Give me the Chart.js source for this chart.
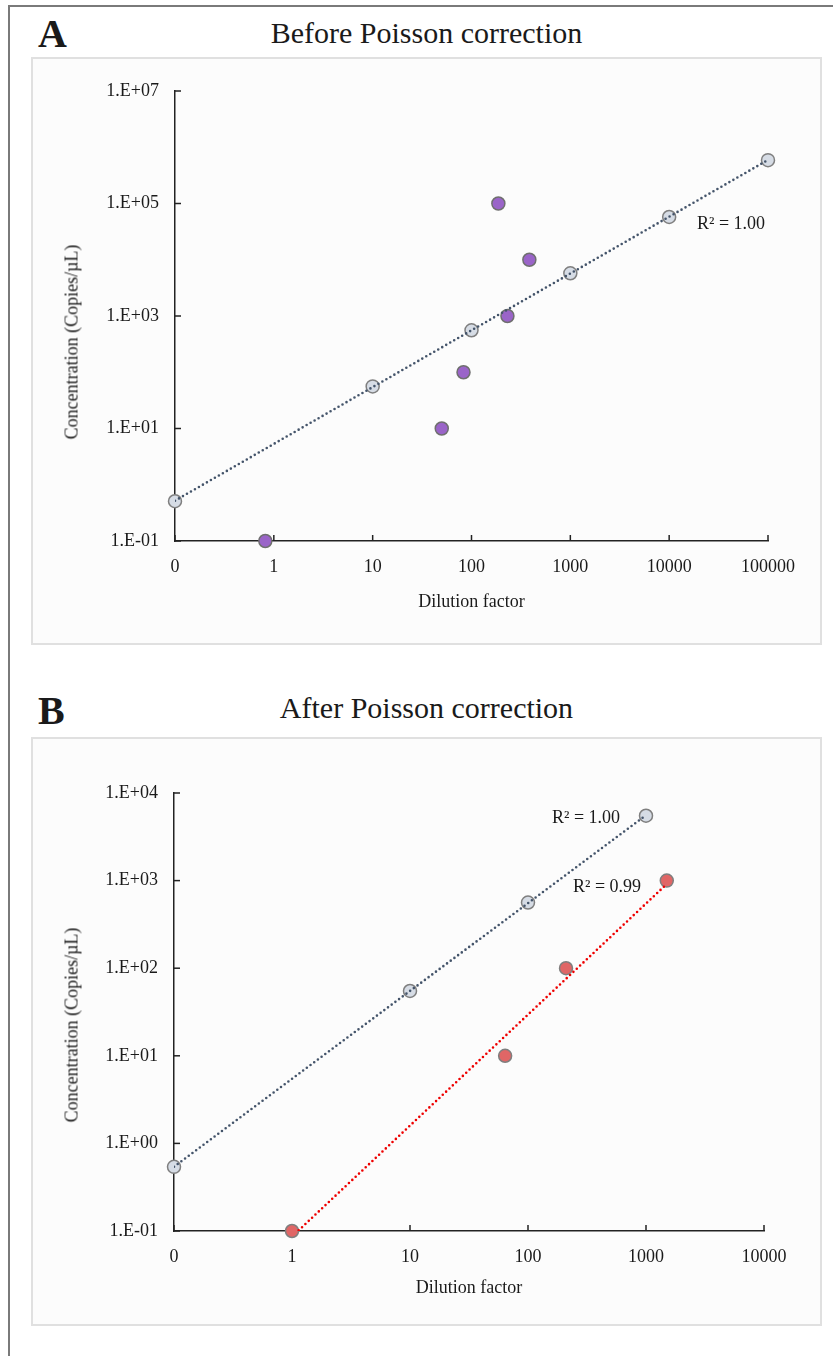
<!DOCTYPE html>
<html>
<head>
<meta charset="utf-8">
<script src="https://cdn.jsdelivr.net/npm/chart.js@4.4.1/dist/chart.umd.min.js"></script>
<style>
  body { margin: 0; background: #fff; width: 833px; height: 1356px; overflow: hidden; position: relative; font-family: 'Liberation Serif', 'Times New Roman', serif; color: #1a1a1a; }
  .frame { position: absolute; left: 8px; top: 5px; width: 830px; height: 1360px; border-top: 2px solid #7a7a7a; border-left: 2px solid #7a7a7a; }
  .box { position: absolute; box-sizing: border-box; background: #fcfcfc; border: 2px solid #e0e0e0; }
  canvas { position: absolute; }
  .letter { position: absolute; font-weight: bold; font-size: 40px; line-height: 40px; }
  .title { position: absolute; font-size: 30px; line-height: 30px; text-align: center; white-space: nowrap; }
  .ytitle { position: absolute; font-size: 18px; white-space: nowrap; transform: translate(-50%, -50%) rotate(-90deg); }
  .r2 { position: absolute; font-size: 18px; line-height: 18px; white-space: nowrap; }
</style>
</head>
<body>
<div class="frame"></div>

<div class="letter" style="left:38px; top:14px;">A</div>
<div class="title" style="left:31px; width:791px; top:18px;">Before Poisson correction</div>
<div class="box" style="left:31px; top:57px; width:791px; height:588px;"></div>
<canvas id="chartA" width="791" height="588" style="left:31px; top:57px;"></canvas>
<div class="ytitle" style="left:72px; top:342px;">Concentration (Copies/µL)</div>
<div class="r2" style="left:697px; top:214px;">R² = 1.00</div>

<div class="letter" style="left:38px; top:691px;">B</div>
<div class="title" style="left:31px; width:791px; top:693px;">After Poisson correction</div>
<div class="box" style="left:31px; top:737px; width:791px; height:589px;"></div>
<canvas id="chartB" width="791" height="589" style="left:31px; top:737px;"></canvas>
<div class="ytitle" style="left:72px; top:1025px;">Concentration (Copies/µL)</div>
<div class="r2" style="left:552px; top:808px;">R² = 1.00</div>
<div class="r2" style="left:573px; top:877px;">R² = 0.99</div>

<script>
// panel A data
const xTicksA = [0.1, 1, 10, 100, 1000, 10000, 100000];
const xLabelsA = ['0', '1', '10', '100', '1000', '10000', '100000'];
const yTicksA = [0.1, 10, 1000, 100000, 10000000];
const yLabelsA = ['1.E-01', '1.E+01', '1.E+03', '1.E+05', '1.E+07'];
const grayXA = [0.1, 10, 100, 1000, 10000, 100000];
const grayYA = [0.51, 56, 557, 5750, 57600, 590000];
const purpleXA = [0.82, 50, 83, 231, 187, 385];
const purpleYA = [0.1, 10, 100, 1000, 100000, 10000];

// panel B data
const xTicksB = [0.1, 1, 10, 100, 1000, 10000];
const xLabelsB = ['0', '1', '10', '100', '1000', '10000'];
const yTicksB = [0.1, 1, 10, 100, 1000, 10000];
const yLabelsB = ['1.E-01', '1.E+00', '1.E+01', '1.E+02', '1.E+03', '1.E+04'];
const grayXB = [0.1, 10, 100, 1000];
const grayYB = [0.54, 55, 562, 5500];
const redXB = [1, 64, 210, 1500];
const redYB = [0.1, 10, 100, 1000];

const tickFont = { family: "'Liberation Serif', 'Times New Roman', serif", size: 18 };
const inkColor = '#1a1a1a';

function pts(xs, ys) {
  return xs.map((x, i) => ({ x: x, y: ys[i] }));
}

// power trendline (least squares in log-log), drawn over the data's x range
function trend(xs, ys) {
  const lx = xs.map(Math.log10), ly = ys.map(Math.log10);
  const n = lx.length;
  const mx = lx.reduce((a, b) => a + b, 0) / n;
  const my = ly.reduce((a, b) => a + b, 0) / n;
  let sxy = 0, sxx = 0;
  for (let i = 0; i < n; i++) {
    sxy += (lx[i] - mx) * (ly[i] - my);
    sxx += (lx[i] - mx) * (lx[i] - mx);
  }
  const slope = sxy / sxx;
  const icpt = my - slope * mx;
  const x0 = Math.min(...xs), x1 = Math.max(...xs);
  return [x0, x1].map(x => ({ x: x, y: Math.pow(10, icpt + slope * Math.log10(x)) }));
}

// ticks pointing inward from the axes
const innerTicks = {
  id: 'innerTicks',
  beforeDatasetsDraw(chart) {
    const ctx = chart.ctx;
    const xs = chart.scales.x, ys = chart.scales.y;
    const area = chart.chartArea;
    ctx.save();
    ctx.strokeStyle = '#222';
    ctx.lineWidth = 1.5;
    xs.ticks.forEach(t => {
      const px = xs.getPixelForValue(t.value);
      ctx.beginPath();
      ctx.moveTo(px, area.bottom);
      ctx.lineTo(px, area.bottom - 6);
      ctx.stroke();
    });
    ys.ticks.forEach(t => {
      const py = ys.getPixelForValue(t.value);
      ctx.beginPath();
      ctx.moveTo(area.left, py);
      ctx.lineTo(area.left + 6, py);
      ctx.stroke();
    });
    ctx.restore();
  }
};

function pointSet(data, fill, border) {
  return {
    data: data,
    showLine: false,
    pointRadius: 6.5,
    pointBackgroundColor: fill,
    pointBorderColor: border,
    pointBorderWidth: 1.5,
    clip: false,
    order: 2
  };
}

function trendSet(data, color) {
  return {
    data: data,
    showLine: true,
    pointRadius: 0,
    borderColor: color,
    borderWidth: 2.6,
    borderDash: [0, 4.6],
    borderCapStyle: 'round',
    tension: 0,
    order: 1
  };
}

function makeChart(id, datasets, cfg) {
  const ctx = document.getElementById(id).getContext('2d');
  return new Chart(ctx, {
    type: 'scatter',
    data: { datasets: datasets },
    options: {
      responsive: false,
      animation: false,
      events: [],
      layout: { padding: { top: cfg.top, right: cfg.right, left: 0, bottom: 0 } },
      plugins: { legend: { display: false }, tooltip: { enabled: false } },
      scales: {
        x: {
          type: 'logarithmic',
          min: cfg.xTicks[0],
          max: cfg.xTicks[cfg.xTicks.length - 1],
          afterBuildTicks: s => { s.ticks = cfg.xTicks.map(v => ({ value: v })); },
          afterFit: s => { s.height = cfg.xHeight; },
          ticks: {
            font: tickFont, color: inkColor, padding: 15, maxRotation: 0, autoSkip: false,
            callback: v => cfg.xLabels[cfg.xTicks.indexOf(v)]
          },
          grid: { display: false, drawTicks: false },
          border: { display: true, color: '#222', width: 1.5 },
          title: { display: true, text: 'Dilution factor', font: tickFont, color: inkColor, padding: { top: 0, bottom: cfg.xTitlePad } }
        },
        y: {
          type: 'logarithmic',
          min: cfg.yTicks[0],
          max: cfg.yTicks[cfg.yTicks.length - 1],
          afterBuildTicks: s => { s.ticks = cfg.yTicks.map(v => ({ value: v })); },
          afterFit: s => { s.width = cfg.yWidth; },
          ticks: {
            font: tickFont, color: inkColor, padding: 16, autoSkip: false,
            callback: v => cfg.yLabels[cfg.yTicks.indexOf(v)]
          },
          grid: { display: false, drawTicks: false },
          border: { display: true, color: '#222', width: 1.5 }
        }
      }
    },
    plugins: [innerTicks]
  });
}

makeChart('chartA', [
  trendSet(trend(grayXA, grayYA), '#44546a'),
  pointSet(pts(grayXA, grayYA), '#d6dce5', '#7f7f7f'),
  pointSet(pts(purpleXA, purpleYA), '#9a64c8', '#6f6f6f')
], {
  xTicks: xTicksA, xLabels: xLabelsA, yTicks: yTicksA, yLabels: yLabelsA,
  top: 34, right: 54, xHeight: 104, yWidth: 144, xTitlePad: 32
});

makeChart('chartB', [
  trendSet(trend(grayXB, grayYB), '#44546a'),
  trendSet(trend(redXB, redYB), '#ee0000'),
  pointSet(pts(grayXB, grayYB), '#d6dce5', '#7f7f7f'),
  pointSet(pts(redXB, redYB), '#e06666', '#7f7f7f')
], {
  xTicks: xTicksB, xLabels: xLabelsB, yTicks: yTicksB, yLabels: yLabelsB,
  top: 56, right: 58, xHeight: 95, yWidth: 143, xTitlePad: 27
});
</script>
</body>
</html>
